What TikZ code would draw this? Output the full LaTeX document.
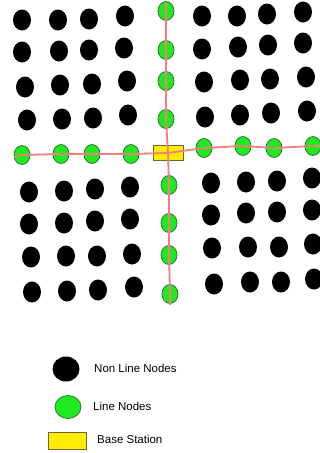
\documentclass[tikz,border=0pt]{standalone}
\usepackage{fontspec}
\setmainfont{Liberation Sans}
\usetikzlibrary{shapes.geometric}
\definecolor{nodegreen}{RGB}{30,235,30}
\definecolor{darkgreen}{RGB}{60,110,60}
\definecolor{bsyellow}{RGB}{255,236,0}
\definecolor{bsborder}{RGB}{110,100,60}
\definecolor{linkred}{RGB}{245,125,125}
\begin{document}
\begin{tikzpicture}[x=1pt,y=-1pt,
  plain/.style={ellipse, fill=black, inner sep=0pt, minimum width=18pt, minimum height=21pt},
  linenode/.style={ellipse, fill=nodegreen, draw=darkgreen, line width=0.8pt, inner sep=0pt, minimum width=16pt, minimum height=19pt},
  basestation/.style={rectangle, fill=bsyellow, draw=bsborder, line width=0.9pt, inner sep=0pt, minimum width=30pt, minimum height=15pt},
  link/.style={draw=linkred, line width=1.8pt},
  legendtext/.style={anchor=west, font=\fontsize{11.5}{13}\selectfont, inner sep=0pt}]
\useasboundingbox (0,0) rectangle (320,453);
\fill[white] (0,0) rectangle (320,453);

% ordinary sensor nodes, four quadrants
\foreach \x/\y [count=\i] in {
  22/20, 58/20, 89/19, 125/16,
  22/52, 59/51, 89/50, 124/48,
  25/87, 60/85, 92/84, 127/81,
  27/120, 62/119, 93/118, 128/115,
  202/16, 237/16, 267/14, 303/12,
  202/49, 238/47, 268/45, 303/43,
  204/82, 240/80, 270/79, 306/77,
  205/117, 240/115, 271/113, 307/111,
  29/192, 64/191, 95/189, 130/187,
  29/224, 64/223, 95/221, 130/219,
  31/257, 66/256, 97/256, 132/254,
  32/292, 67/291, 98/290, 134/287,
  211/183, 246/182, 277/181, 312/178,
  211/215, 246/213, 277/212, 312/210,
  212/248, 248/247, 279/247, 313/244,
  214/284, 250/282, 281/282, 314/279}
  \node[plain] (p\i) at (\x,\y) {};

% base station and line nodes
\node[basestation] (bs) at (168,153) {};
\node[linenode] (n1) at (166,11) {};
\node[linenode] (n2) at (166,50) {};
\node[linenode] (n3) at (166,81) {};
\node[linenode] (n4) at (166,119) {};
\node[linenode] (s1) at (169,185) {};
\node[linenode] (s2) at (169,223) {};
\node[linenode] (s3) at (169,255) {};
\node[linenode] (s4) at (170,294) {};
\node[linenode] (w1) at (22,155) {};
\node[linenode] (w2) at (61,154) {};
\node[linenode] (w3) at (92,154) {};
\node[linenode] (w4) at (131,154) {};
\node[linenode] (e1) at (204,148) {};
\node[linenode] (e2) at (243,146) {};
\node[linenode] (e3) at (274,148) {};
\node[linenode] (e4) at (313,146) {};

% free ends of the line routes
\coordinate (ntop) at (166,3);
\coordinate (sbot) at (170,305);
\coordinate (wend) at (14,157);
\coordinate (eend) at (320,146);

\draw[link] (ntop) -- (n1.center) -- (n2.center) -- (n3.center) -- (n4.center) -- (bs.center)
  -- (s1.center) -- (s2.center) -- (s3.center) -- (s4.center) -- (sbot);
\draw[link] (wend) -- (w1.center) -- (w2.center) -- (w3.center) -- (w4.center) -- (bs.center)
  -- (e1.center) -- (e2.center) -- (e3.center) -- (e4.center) -- (eend);

% legend
\node[plain, minimum width=27pt, minimum height=25pt] (lk1) at (66,369) {};
\node[legendtext] (lt1) at (94,368) {Non Line Nodes};
\node[linenode, minimum width=26pt, minimum height=23pt] (lk2) at (68,407) {};
\node[legendtext] (lt2) at (93,406) {Line Nodes};
\node[basestation, minimum width=38pt, minimum height=17pt] (lk3) at (67,441) {};
\node[legendtext] (lt3) at (97,439) {Base Station};
\end{tikzpicture}
\end{document}
